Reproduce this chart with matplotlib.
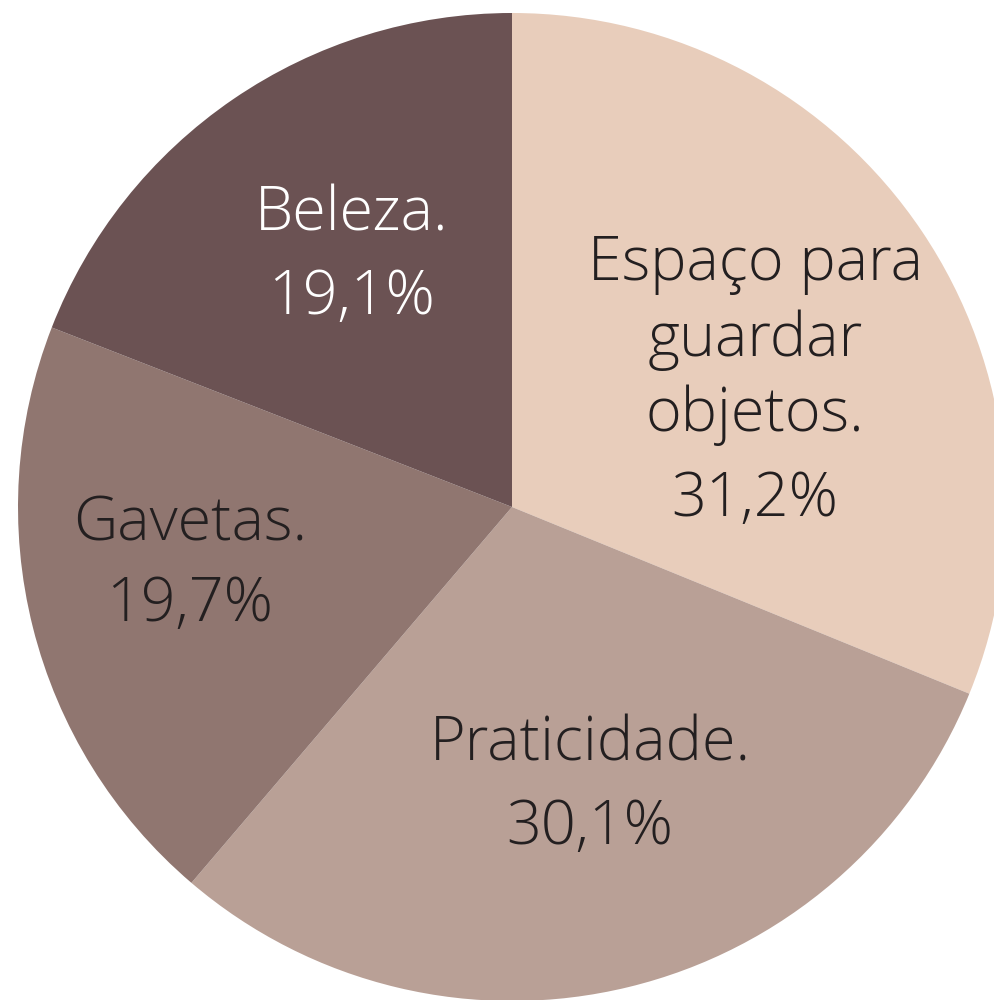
import matplotlib.pyplot as plt

labels = ["Espaço para\nguardar\nobjetos.", "Praticidade.", "Gavetas.", "Beleza."]
values = [31.2, 30.1, 19.7, 19.1]
pct_text = ["31,2%", "30,1%", "19,7%", "19,1%"]
colors = ["#e8cdbb", "#b9a096", "#907670", "#6b5253"]
text_colors = ["#231f20", "#231f20", "#231f20", "#ffffff"]

# label centres in pixels (x, y from top) for the name and the percentage
label_pos = [(755, 340), (590, 745), (190, 525), (352, 215)]
pct_pos = [(755, 500), (590, 828), (190, 605), (352, 298)]


def plot_pie():
    fig = plt.figure(figsize=(9.94, 10), dpi=100)
    ax = fig.add_axes([0, 0, 1, 1])
    cx, cy = 512, 507
    ax.pie(values, colors=colors, startangle=90, counterclock=False,
           radius=494, center=(0, 0), wedgeprops=dict(linewidth=0))
    ax.set_xlim(-cx, 994 - cx)
    ax.set_ylim(-(1000 - cy), cy)
    ax.set_aspect("equal")
    ax.axis("off")

    font = dict(family=["Open Sans", "DejaVu Sans"], fontweight="light",
                fontsize=44, ha="center", va="center", linespacing=1.3)
    for lab, pct, (lx, ly), (px, py), tc in zip(labels, pct_text, label_pos,
                                                 pct_pos, text_colors):
        ax.text(lx - cx, cy - ly, lab, color=tc, **font)
        ax.text(px - cx, cy - py, pct, color=tc, **font)

    fig.savefig("out.png", dpi=100)


if __name__ == "__main__":
    plot_pie()
